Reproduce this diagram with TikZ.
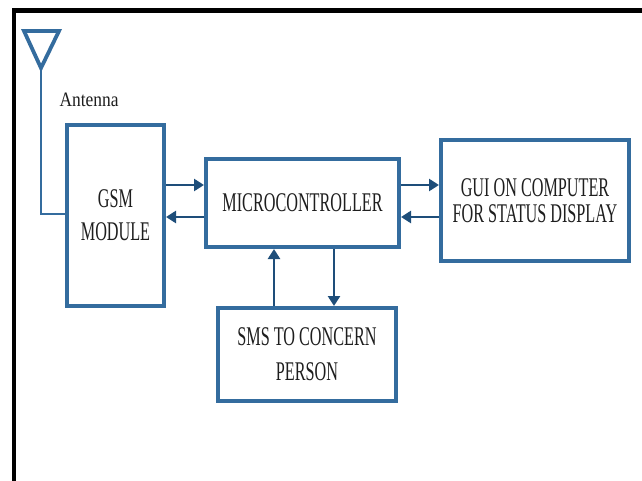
\documentclass[tikz,border=0pt]{standalone}
\usepackage{fontspec}
\setmainfont{Liberation Serif}
\newfontfamily\condfont[FakeStretch=0.6]{Liberation Serif}
\newfontfamily\antfont[FakeStretch=0.85]{Liberation Serif}
\usetikzlibrary{arrows.meta}
\definecolor{boxblue}{RGB}{52,108,158}
\definecolor{arrblue}{RGB}{30,78,122}
\definecolor{txtgray}{RGB}{30,30,30}
\tikzset{
  blockbox/.style={draw=boxblue, line width=4pt, fill=white, inner sep=0pt,
    align=center, text=txtgray, font=\condfont\fontsize{27}{33}\selectfont},
  arr/.style={draw=arrblue, line width=2.8pt,
    -{Triangle[length=10pt,width=12pt]}},
  wire/.style={draw=boxblue, line width=2.2pt},
}
\begin{document}
\begin{tikzpicture}[x=1pt,y=-1pt]
\useasboundingbox (0,0) rectangle (642,481);
% outer frame
\fill[black] (12,8) rectangle (642,13);
\fill[black] (12,8) rectangle (16,481);
% antenna
\coordinate (apex) at (41,68);
\draw[boxblue, line width=3.8pt, line join=miter] (24,31) -- (59,31) -- (apex) -- cycle;
\node[anchor=base west, text=txtgray, font=\antfont\fontsize{20.5}{22}\selectfont] (antlbl) at (56,107) {Antenna};
% blocks
\node[blockbox, minimum width=97pt, minimum height=181pt] (gsm) at (115.5,215.5) {GSM\\MODULE};
\node[blockbox, minimum width=193pt, minimum height=88pt] (mc) at (302.5,203) {MICROCONTROLLER};
\node[blockbox, minimum width=188pt, minimum height=121pt, font=\condfont\fontsize{27}{25.5}\selectfont] (gui) at (535,200.5) {\raisebox{-3pt}{GUI ON COMPUTER}\\\raisebox{-3pt}{FOR STATUS DISPLAY}};
\node[blockbox, minimum width=178pt, minimum height=93pt, font=\condfont\fontsize{27}{35}\selectfont] (sms) at (307,354.5) {SMS TO CONCERN\\PERSON};
% antenna wire
\coordinate (acorner) at (41,214);
\draw[wire] (apex) -- (acorner) -- (gsm.west |- acorner);
% helper levels
\coordinate (yA) at (0,185);
\coordinate (yB) at (0,217);
\coordinate (xA) at (274,0);
\coordinate (xB) at (334,0);
% connectors
\draw[arr] (gsm.east |- yA) -- (mc.west |- yA);
\draw[arr] (mc.west |- yB) -- (gsm.east |- yB);
\draw[arr] (mc.east |- yA) -- (gui.west |- yA);
\draw[arr] (gui.west |- yB) -- (mc.east |- yB);
\draw[arr] (sms.north -| xA) -- (mc.south -| xA);
\draw[arr] (mc.south -| xB) -- (sms.north -| xB);
\end{tikzpicture}
\end{document}
